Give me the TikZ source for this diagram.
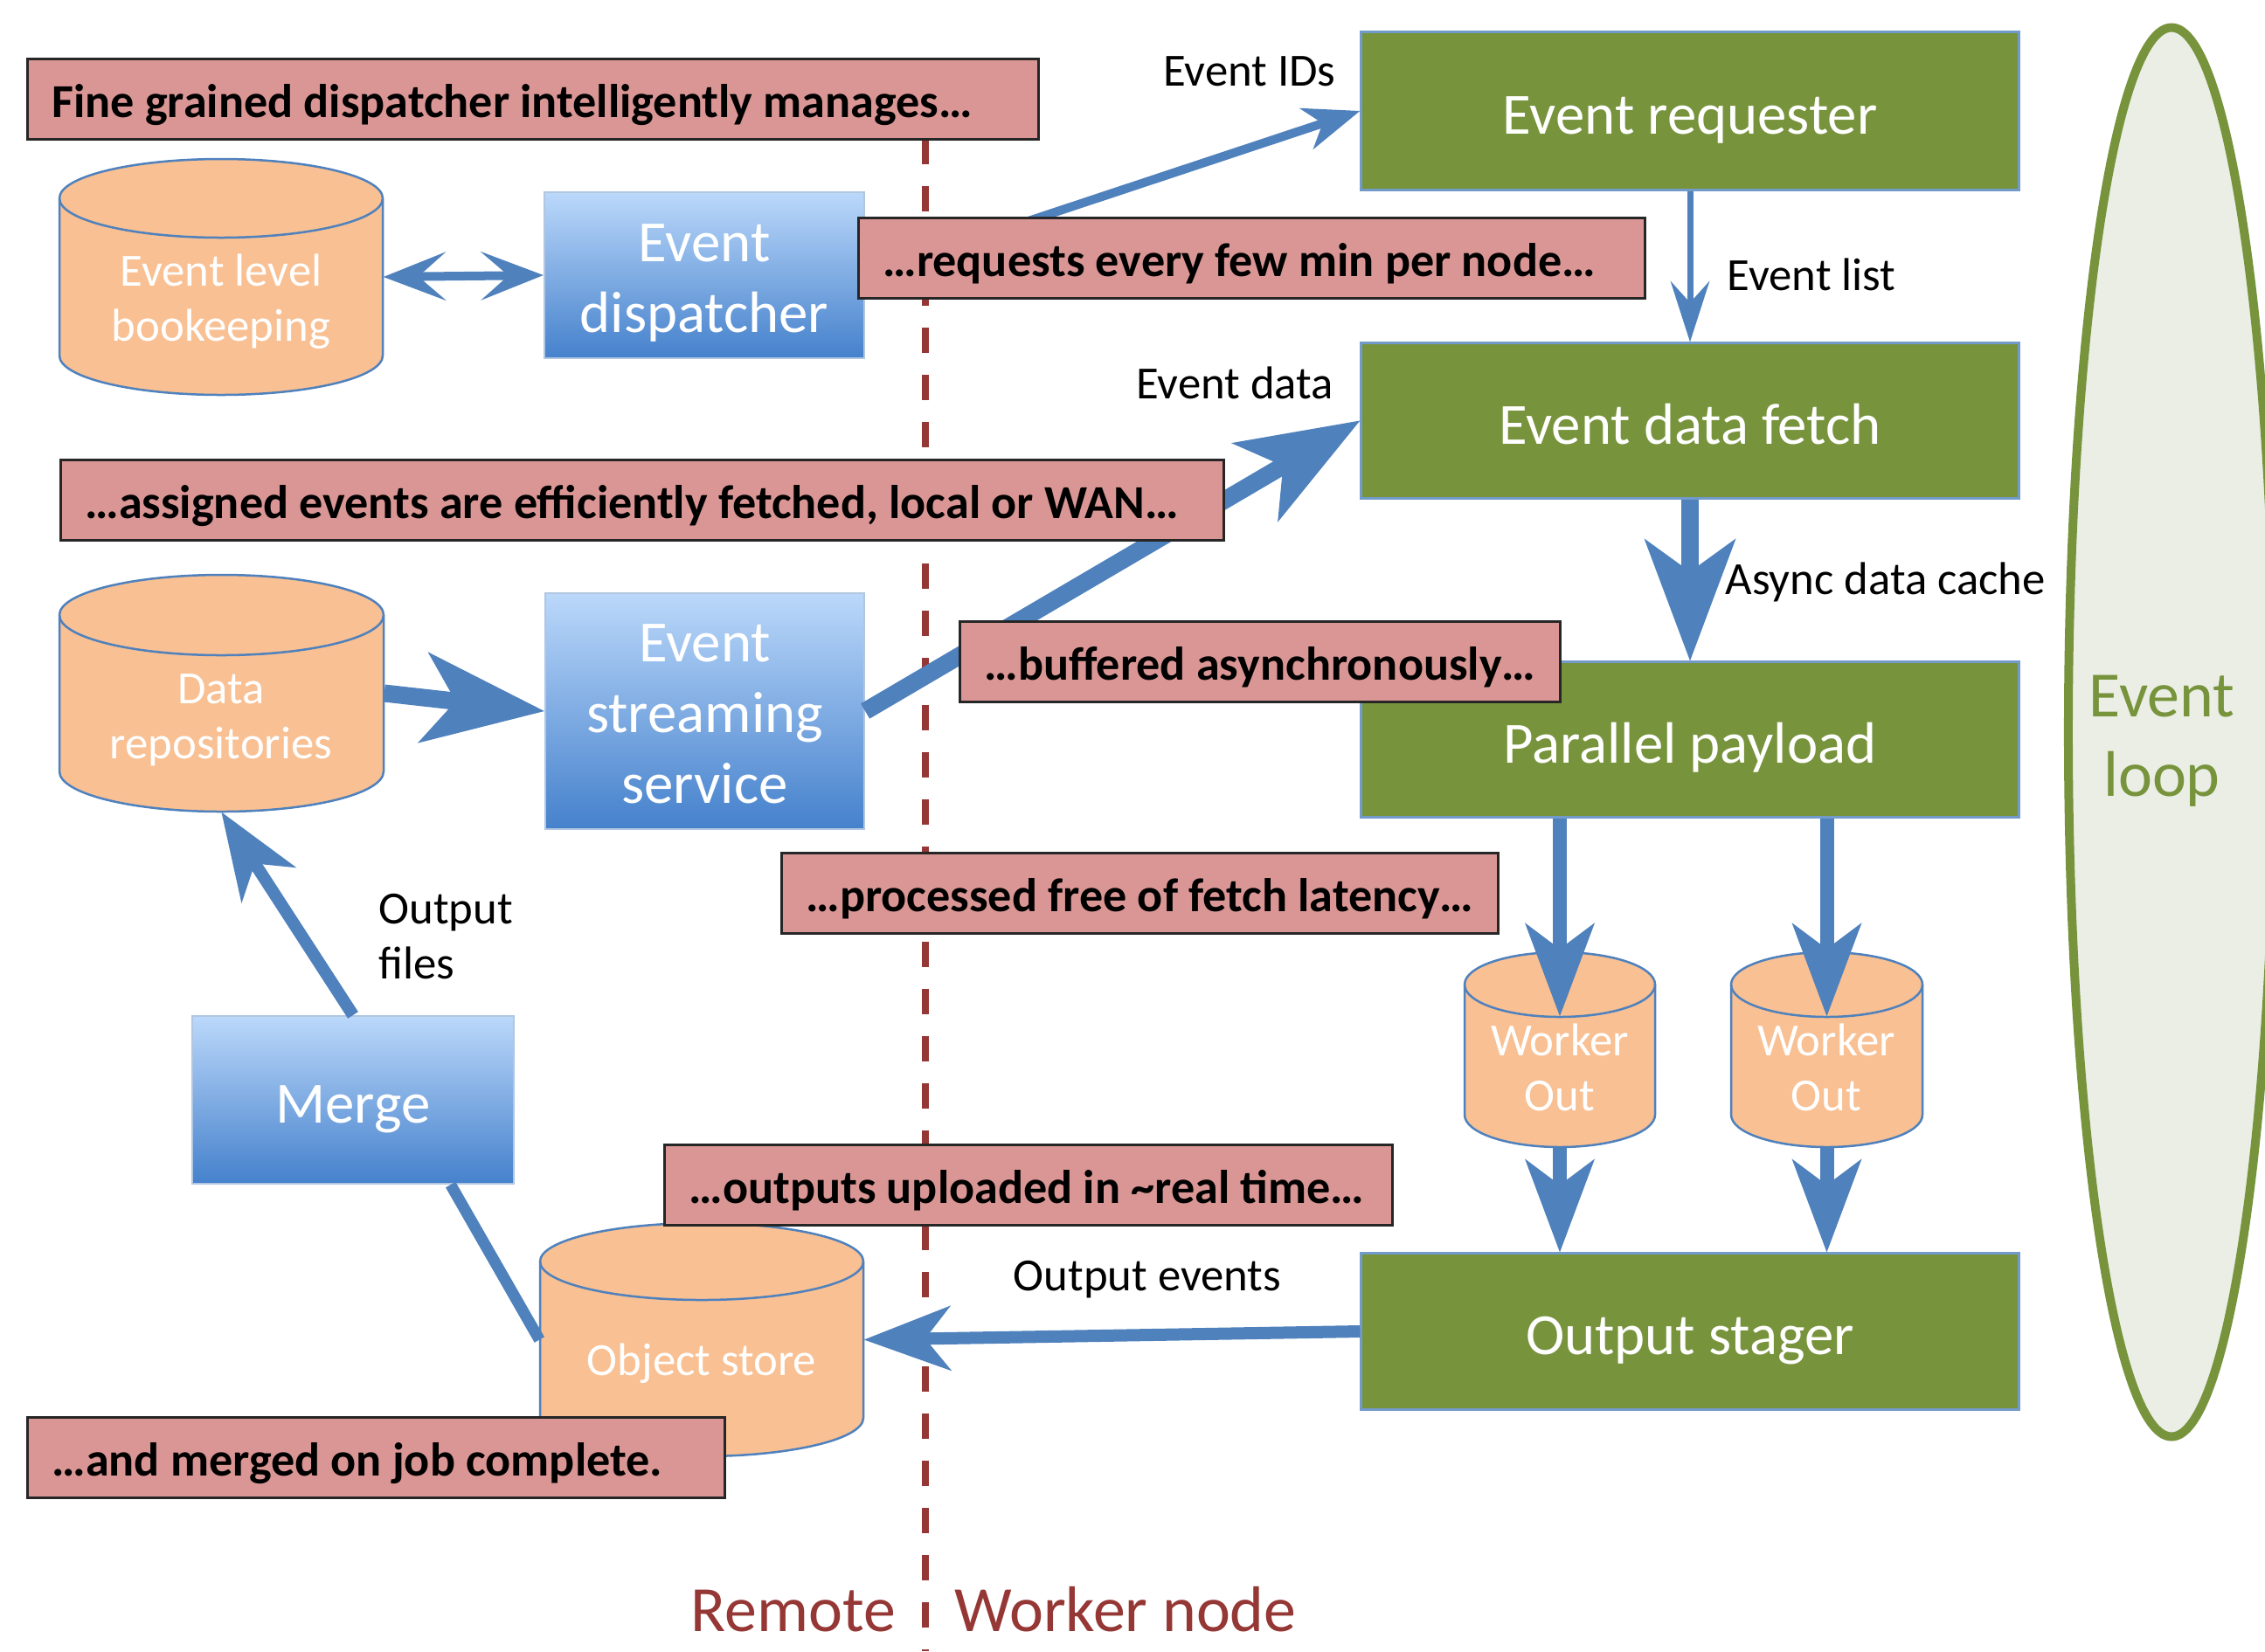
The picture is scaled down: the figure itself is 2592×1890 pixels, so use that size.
\documentclass[tikz,border=0pt]{standalone}
\usepackage{fontspec}
\setmainfont{Carlito}
\usetikzlibrary{arrows.meta,shapes.geometric,fit,calc}
\definecolor{pinkc}{HTML}{D99694}
\definecolor{greenc}{HTML}{77933C}
\definecolor{edgeb}{HTML}{4F81BD}
\definecolor{arrc}{HTML}{4F81BD}
\definecolor{cylc}{HTML}{F8C093}
\definecolor{bluetop}{HTML}{BBD8FA}
\definecolor{bluebot}{HTML}{4581CC}
\definecolor{darkred}{HTML}{953735}
\definecolor{loopfill}{HTML}{EAEEE4}

\newcommand{\mkcyl}[6]{%
  \pgfmathsetmacro{\mycylrx}{(#4-#2)/2}%
  \filldraw[cylbody] (#2,#3+#6) -- (#2,#5-#6)
    arc[start angle=180,end angle=360,x radius=\mycylrx*0.01cm,y radius=#6*0.01cm]
    -- (#4,#3+#6)
    arc[start angle=0,end angle=180,x radius=\mycylrx*0.01cm,y radius=#6*0.01cm] -- cycle;
  \draw[cylbody,fill=none] (#2,#3+#6)
    arc[start angle=180,end angle=360,x radius=\mycylrx*0.01cm,y radius=#6*0.01cm];
  \coordinate (#1-nw) at (#2,#3);
  \coordinate (#1-se) at (#4,#5);
  \node[fit=(#1-nw)(#1-se),inner sep=0pt] (#1) {};
}

\begin{document}
\begin{tikzpicture}[x=0.01cm,y=-0.01cm,
  pinkbox/.style={draw=black!85, line width=0.03cm, fill=pinkc, anchor=north west,
    inner xsep=0.28cm, inner ysep=0pt, minimum height=0.92cm, text height=0.5cm, text depth=0.08cm,
    font=\fontsize{15.4}{18}\selectfont\bfseries},
  greenbox/.style={draw=edgeb!80, line width=0.03cm, fill=greenc, text=white, inner sep=0pt,
    minimum width=7.52cm, text height=0.62cm, text depth=0.09cm, font=\fontsize{19}{23}\selectfont},
  bluebox/.style={draw=edgeb!45, line width=0.02cm, top color=bluetop, bottom color=bluebot,
    text=white, inner sep=0pt, align=center, font=\fontsize{19}{23}\selectfont},
  cylbody/.style={fill=cylc, draw=edgeb, line width=0.025cm},
  cyltext/.style={text=white, align=center, inner sep=0pt, font=\fontsize{15}{18}\selectfont},
  lbl/.style={text=black, inner sep=0pt, font=\fontsize{15}{18}\selectfont},
  side/.style={text=darkred, inner sep=0pt, anchor=base, text depth=0pt, font=\fontsize{21}{25}\selectfont},
  bigarrow/.style={draw=arrc, line width=0.2cm,
    -{Stealth[length=1.4cm,width=1.05cm,inset=0.38cm,line width=0pt]}},
  wkarrow/.style={draw=arrc, line width=0.16cm,
    -{Stealth[length=1.07cm,width=0.8cm,inset=0.3cm,line width=0pt]}},
  medarrow/.style={draw=arrc, line width=0.14cm,
    -{Stealth[length=1.0cm,width=0.75cm,inset=0.3cm,line width=0pt]}},
  smallarrow/.style={draw=arrc, line width=0.1cm,
    -{Stealth[length=0.65cm,width=0.5cm,inset=0.2cm,line width=0pt]}},
  thinarrow/.style={draw=arrc, line width=0.07cm,
    -{Stealth[length=0.7cm,width=0.45cm,inset=0.25cm,line width=0pt]}},
  dblarrow/.style={draw=arrc, line width=0.1cm,
    {Stealth[length=0.72cm,width=0.56cm,inset=0.32cm,line width=0pt]}-{Stealth[length=0.72cm,width=0.56cm,inset=0.32cm,line width=0pt]}},
  plainline/.style={draw=arrc, line width=0.13cm}
]
\useasboundingbox (0,0) rectangle (2592,1890);

% divider
\draw[darkred, line width=0.08cm, dash pattern=on 0.29cm off 0.25cm] (1059,159) -- (1059,1890);

% event loop
\node[ellipse, draw=greenc, line width=0.1cm, fill=loopfill, minimum width=2.36cm,
  minimum height=16.12cm, inner sep=0pt] (loop) at (2485,838) {};
\node[text=greenc, align=center, inner sep=0pt, font=\fontsize{21}{26}\selectfont]
  (looptext) at (2474,848) {Event\\loop};

% cylinders
\mkcyl{bk}{68}{182}{438}{452}{45}
\mkcyl{dr}{68}{658}{439}{929}{46}
\mkcyl{obj}{618}{1400}{988}{1667}{44}
\mkcyl{wa}{1676}{1090}{1894}{1313}{37}
\mkcyl{wb}{1981}{1090}{2200}{1313}{37}
\node[cyltext] (bktext) at (253,345) {Event level\\bookeeping};
\node[cyltext] (drtext) at (253,824) {Data\\repositories};
\node[cyltext] (objtext) at (803,1561) {Object store};
\node[cyltext] (watext) at (1785,1222) {Worker\\Out};
\node[cyltext] (wbtext) at (2090,1222) {Worker\\Out};

% blue boxes
\node[bluebox, minimum width=3.66cm, minimum height=1.90cm] (disp) at (806,315) {\rule{0pt}{17.5pt}Event\\dispatcher};
\node[bluebox, minimum width=3.65cm, minimum height=2.70cm] (ess) at (806.5,814) {\rule{0pt}{14pt}Event\\streaming\\service};
\node[bluebox, minimum width=3.68cm, minimum height=1.92cm, text height=0.62cm, text depth=0.09cm] (merge) at (404,1259) {Merge};

% green boxes
\node[greenbox, minimum height=1.80cm] (req) at (1934,127) {Event requester};
\node[greenbox, minimum height=1.77cm] (fetch) at (1934,481.5) {Event data fetch};
\node[greenbox, minimum height=1.77cm] (payload) at (1934,846.5) {Parallel payload};
\node[greenbox, minimum height=1.78cm] (stager) at (1934,1524) {Output stager};

% connectors
\draw[dblarrow] (bk.east) -- (disp.west);
\draw[smallarrow] (disp.east) -- (req.west);
\draw[thinarrow] (req.south) -- (fetch.north);
\draw[bigarrow] (dr.east) -- (ess.west);
\draw[bigarrow] (ess.east) -- (fetch.west);
\draw[bigarrow] (fetch.south) -- (payload.north);
\draw[wkarrow] (payload.south -| wa) -- ($(wa.north)+(0,74)$);
\draw[wkarrow] (payload.south -| wb) -- ($(wb.north)+(0,74)$);
\draw[wkarrow] (wa.south) -- (stager.north -| wa);
\draw[wkarrow] (wb.south) -- (stager.north -| wb);
\draw[medarrow] (stager.west) -- (obj.east);
\draw[plainline] (merge.-41) -- (obj.west);
\draw[medarrow] (merge.north) -- (dr.south);

% commentary boxes
\node[pinkbox, minimum width=11.56cm] (ca) at (30,66) {\makebox[11.00cm][l]{Fine grained dispatcher intelligently manages…}};
\node[pinkbox, minimum width=8.99cm] (cb) at (981,248) {\makebox[8.43cm][l]{…requests every few min per node…}};
\node[pinkbox, minimum width=13.30cm] (cc) at (68,525) {\makebox[12.74cm][l]{…assigned events are efficiently fetched, local or WAN…}};
\node[pinkbox, minimum width=6.87cm] (cd) at (1097,710) {\makebox[6.31cm][l]{…buffered asynchronously…}};
\node[pinkbox, minimum width=8.19cm] (ce) at (893,975) {\makebox[7.63cm][l]{…processed free of fetch latency…}};
\node[pinkbox, minimum width=8.32cm] (cf) at (759,1309) {\makebox[7.76cm][l]{…outputs uploaded in \textasciitilde real time…}};
\node[pinkbox, minimum width=7.98cm] (cg) at (30,1621) {\makebox[7.42cm][l]{…and merged on job complete.}};

% labels
\node[lbl] (lids) at (1430,82) {Event IDs};
\node[lbl, anchor=west] (llist) at (1976,314) {Event list};
\node[lbl] (ldata) at (1413,438) {Event data};
\node[lbl, anchor=west] (lasync) at (1974,666) {Async data cache};
\node[lbl, anchor=west, align=left] (lfiles) at (433,1072) {Output\\files};
\node[lbl] (lout) at (1313,1465) {Output events};
\node[side] (lremote) at (908,1867) {Remote};
\node[side] (lworker) at (1288,1867) {Worker node};
\end{tikzpicture}
\end{document}
